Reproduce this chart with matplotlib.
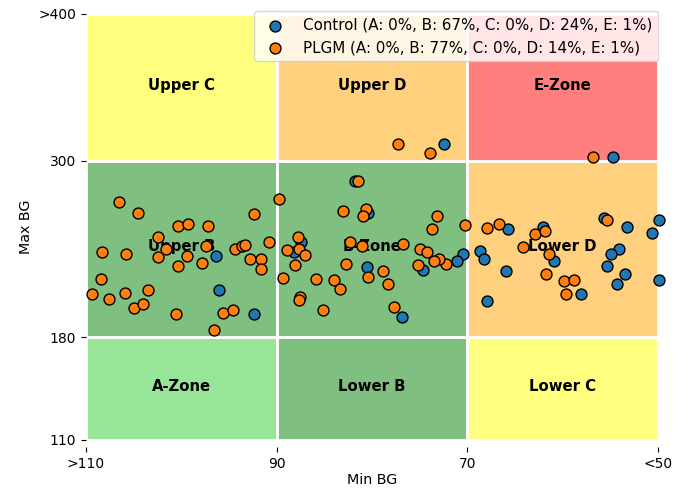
import matplotlib
matplotlib.use("Agg")
import matplotlib.pyplot as plt
from matplotlib.patches import Rectangle
from matplotlib.colors import to_rgba

# Zone boundaries
x_edges = [110, 90, 70, 50]
y_edges = [110, 180, 300, 400]
x_ticklabels = [">110", "90", "70", "<50"]
y_ticklabels = ["110", "180", "300", ">400"]

# zone names / colours, rows from bottom to top, columns left (110) to right (50)
zone_names = [["A-Zone", "Lower B", "Lower C"],
              ["Upper B", "B-Zone", "Lower D"],
              ["Upper C", "Upper D", "E-Zone"]]
zone_colors = [["limegreen", "green", "yellow"],
               ["green", "green", "orange"],
               ["yellow", "orange", "red"]]

# Control series (min BG, max BG)
control_min = [96.4, 96.1, 92.4, 72.4, 81.8, 80.4, 87.4, 88.2, 70.5, 71.1,
               74.6, 80.5, 76.9, 54.75, 65.7, 62.1, 55.7, 53.3, 49.9, 50.6,
               68.7, 68.3, 60.9, 54.05, 54.9, 55.3, 65.9, 53.5, 54.3, 49.9,
               58.1, 67.9]
control_max = [235.3, 212.3, 195.8, 311.5, 286.5, 264.3, 244.8, 238.2, 236.6, 232.1,
               225.7, 227.6, 193.9, 302.4, 253.4, 254.8, 260.9, 254.8, 259.8, 250.9,
               238.7, 233.0, 231.7, 239.8, 236.6, 228.7, 225.0, 222.8, 216.2, 218.9,
               209.4, 204.6]

# PLGM series (min BG, max BG)
plgm_min = [106.5, 104.5, 100.3, 99.3, 97.2, 92.35, 89.8, 102.4, 101.6, 108.3,
            105.8, 102.4, 99.4, 97.4, 94.4, 93.6, 93.3, 90.8, 92.8, 91.6,
            91.6, 100.3, 97.8, 108.4, 109.4, 107.6, 105.9, 103.5, 105.0, 104.0,
            100.6, 95.6, 94.6, 96.6, 89.3,
            77.3, 73.9, 81.5, 83.0, 80.6, 80.9, 73.2, 73.7, 70.2, 87.8,
            82.3, 81.1, 76.7, 88.9, 87.7, 87.0, 75.0, 74.25, 72.2, 73.0,
            73.5, 75.2, 82.7, 80.4, 78.8, 78.3, 88.1, 85.9, 84.0, 83.4,
            87.5, 87.7, 85.1, 77.7,
            56.8, 67.9, 66.7, 62.9, 61.9, 55.3, 64.15, 61.4, 61.7, 59.9,
            58.8, 59.7]
plgm_max = [271.8, 264.3, 255.5, 257.0, 255.5, 264.1, 273.9, 248.4, 239.8, 238.2,
            236.8, 234.4, 235.3, 242.1, 239.8, 242.3, 242.7, 245.0, 233.2, 233.2,
            226.2, 228.2, 230.3, 219.8, 209.6, 206.0, 210.3, 212.3, 199.7, 202.4,
            195.8, 196.3, 198.5, 184.9, 220.5,
            311.5, 305.2, 286.3, 265.9, 267.3, 262.7, 262.7, 253.8, 256.4, 248.4,
            245.0, 242.3, 243.6, 239.3, 239.8, 235.9, 240.2, 238.2, 229.8, 233.4,
            232.1, 229.1, 230.0, 220.8, 225.3, 216.2, 228.9, 219.6, 219.1, 212.6,
            207.6, 205.3, 198.5, 200.7,
            302.4, 254.5, 257.0, 250.4, 252.5, 259.6, 241.6, 236.8, 222.8, 218.4,
            218.9, 209.2]

control_label = "Control (A: 0%, B: 67%, C: 0%, D: 24%, E: 1%)"
plgm_label = "PLGM (A: 0%, B: 77%, C: 0%, D: 14%, E: 1%)"

fig = plt.figure(figsize=(6.89, 4.91), dpi=100)
ax = fig.add_axes([0.1248, 0.1039, 0.8302, 0.8676])

for r in range(3):
    for c in range(3):
        x0, x1 = x_edges[c], x_edges[c + 1]
        y0, y1 = y_edges[r], y_edges[r + 1]
        ax.add_patch(Rectangle((x1, y0), x0 - x1, y1 - y0,
                               facecolor=to_rgba(zone_colors[r][c], 0.5),
                               edgecolor="white", linewidth=2, zorder=0))
        ax.text((x0 + x1) / 2, (y0 + y1) / 2 + 1.5, zone_names[r][c],
                ha="center", va="center", fontsize=10.7, fontweight="bold",
                zorder=1)

ax.scatter(control_min, control_max, s=62, color="#1f77b4", edgecolor="black",
           linewidth=1, label=control_label, zorder=3, clip_on=False)
ax.scatter(plgm_min, plgm_max, s=62, color="#ff7f0e", edgecolor="black",
           linewidth=1, label=plgm_label, zorder=4, clip_on=False)

ax.set_xlim(110, 50)
ax.set_ylim(110, 400)
ax.set_xticks(x_edges)
ax.set_xticklabels(x_ticklabels)
ax.set_yticks(y_edges)
ax.set_yticklabels(y_ticklabels)
ax.set_xlabel("Min BG", fontsize=10.3, labelpad=2)
ax.set_ylabel("Max BG", fontsize=10.3)
for s in ax.spines.values():
    s.set_visible(False)
ax.spines["bottom"].set_position(("outward", 5))

ax.legend(loc="upper right", bbox_to_anchor=(1.0, 1.006), borderaxespad=0,
          fontsize=10.9)

fig.savefig("out.png", dpi=100)
